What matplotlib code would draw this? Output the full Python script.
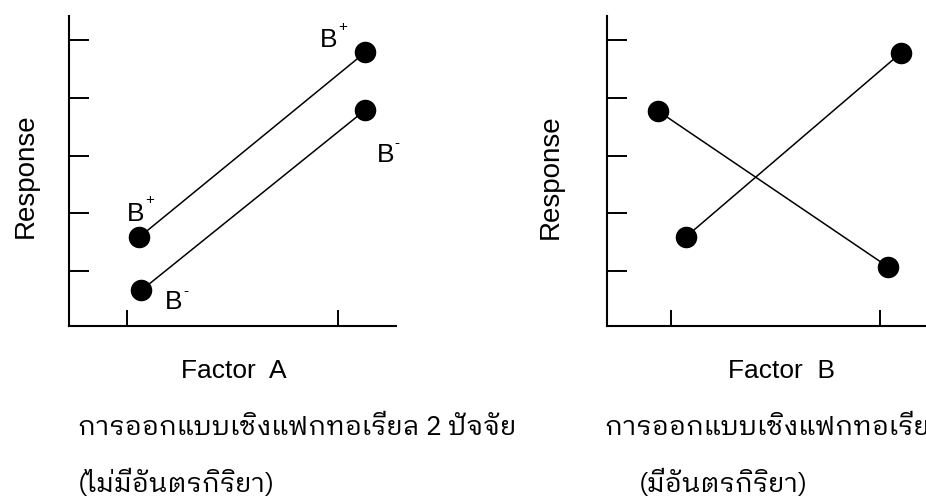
"""Two-factor interaction plot: parallel lines (no interaction) vs crossing lines."""

import matplotlib
matplotlib.use("Agg")
import matplotlib.pyplot as plt

# left panel: no interaction, response vs Factor A for B+ and B-
a_plus_x = [1.06, 2.13]
a_plus_y = [1.59, 4.79]
a_minus_x = [1.07, 2.13]
a_minus_y = [0.67, 3.79]

# right panel: interaction, response vs Factor B
b_down_x = [0.94, 2.04]
b_down_y = [3.77, 1.07]
b_up_x = [1.07, 2.10]
b_up_y = [1.59, 4.78]

y_ticks = [1, 2, 3, 4, 5]
x_ticks = [1, 2]

left_caption = ["การออกแบบเชิงแฟกทอเรียล 2 ปัจจัย", "(ไม่มีอันตรกิริยา)"]
right_caption = ["การออกแบบเชิงแฟกทอเรียล 2 ปัจจัย", "(มีอันตรกิริยา)"]

LATIN = ["Liberation Sans", "DejaVu Sans"]
THAI = ["IBM Plex Sans Thai Looped", "Noto Sans Thai Looped", "DejaVu Sans"]


def style_axes(ax):
    for side in ("top", "right"):
        ax.spines[side].set_visible(False)
    for side in ("left", "bottom"):
        ax.spines[side].set_linewidth(1.5)
    ax.set_yticks(y_ticks)
    ax.set_xticks(x_ticks)
    ax.tick_params(axis="y", direction="in", length=14.5, width=1.4, labelleft=False)
    ax.tick_params(axis="x", direction="in", length=11.5, width=1.4, labelbottom=False)
    ax.set_ylim(0.05, 5.42)


def b_label(ax, xy, sign, off_b, off_s):
    ax.annotate("B", xy=xy, xytext=off_b, textcoords="offset pixels",
                ha="center", va="center", fontsize=19, family=LATIN)
    ax.annotate(sign, xy=xy, xytext=off_s, textcoords="offset pixels",
                ha="center", va="center", fontsize=11, family=LATIN,
                annotation_clip=False)


fig = plt.figure(figsize=(9.26, 5.01), dpi=100, facecolor="white")

line_kw = dict(color="black", linewidth=1.1, marker="o", markersize=14.5,
               markerfacecolor="black", markeredgecolor="black", clip_on=False)

# ---- left panel
ax1 = fig.add_axes([69 / 926, 175 / 501, 327 / 926, 310 / 501])
ax1.plot(a_plus_x, a_plus_y, **line_kw)
ax1.plot(a_minus_x, a_minus_y, **line_kw)
ax1.set_xlim(1 - 57.7 / 211, 1 + 269.3 / 211)
style_axes(ax1)

b_label(ax1, (a_plus_x[0], a_plus_y[0]), "+", (-4, 23), (10, 37))
b_label(ax1, (a_minus_x[0], a_minus_y[0]), "-", (32, -12), (44, -1))
b_label(ax1, (a_plus_x[1], a_plus_y[1]), "+", (-37, 12), (-22, 25))
b_label(ax1, (a_minus_x[1], a_minus_y[1]), "-", (20, -45), (32, -33))

# ---- right panel (runs off the right edge like the source)
ax2 = fig.add_axes([607 / 926, 175 / 501, 340 / 926, 310 / 501])
ax2.plot(b_down_x, b_down_y, **line_kw)
ax2.plot(b_up_x, b_up_y, **line_kw)
ax2.set_xlim(1 - 64 / 209, 1 + 276 / 209)
style_axes(ax2)

# ---- axis titles and captions
fig.text(26 / 926, 325 / 501, "Response", rotation=90, ha="center", va="center",
         fontsize=20, family=LATIN)
fig.text(551 / 926, 324 / 501, "Response", rotation=90, ha="center", va="center",
         fontsize=20, family=LATIN)
fig.text(234 / 926, 123 / 501, "Factor  A", ha="center", va="baseline", fontsize=19, family=LATIN)
fig.text(781 / 926, 123 / 501, "Factor  B", ha="center", va="baseline", fontsize=19, family=LATIN)

thai_kw = dict(va="baseline", fontsize=19.3, family=THAI)
fig.text(78 / 926, 66 / 501, left_caption[0], ha="left", **thai_kw)
fig.text(78 / 926, 9 / 501, left_caption[1], ha="left", **thai_kw)
fig.text(605 / 926, 66 / 501, right_caption[0], ha="left", **thai_kw)
fig.text(723 / 926, 9 / 501, right_caption[1], ha="center", **thai_kw)

fig.savefig("out.png", dpi=100, facecolor=fig.get_facecolor())
plt.close(fig)
